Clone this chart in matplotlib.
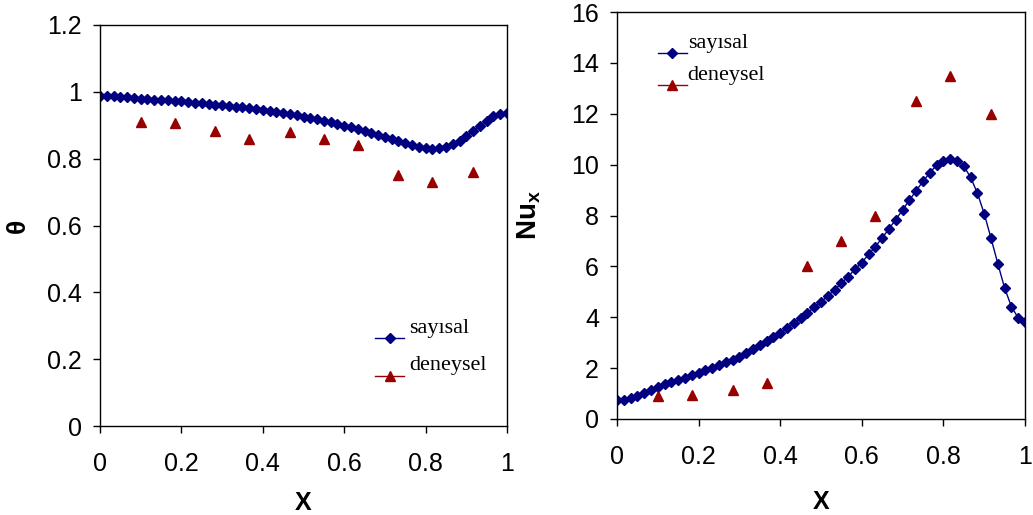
import numpy as np
import matplotlib
matplotlib.use("Agg")
import matplotlib.pyplot as plt

plt.rcParams["font.family"] = "Liberation Sans"
plt.rcParams["mathtext.fontset"] = "custom"
plt.rcParams["mathtext.rm"] = "Liberation Sans"
plt.rcParams["mathtext.bf"] = "Liberation Sans:bold"

# data
x_num = np.arange(61) / 60.0
theta_num = [0.988, 0.988, 0.987, 0.985, 0.984, 0.982, 0.980, 0.978, 0.977, 0.976,
             0.975, 0.974, 0.972, 0.970, 0.968, 0.966, 0.964, 0.962, 0.960, 0.958,
             0.956, 0.954, 0.951, 0.949, 0.946, 0.943, 0.940, 0.937, 0.934, 0.930,
             0.926, 0.923, 0.919, 0.914, 0.909, 0.904, 0.899, 0.894, 0.889, 0.883,
             0.877, 0.871, 0.865, 0.858, 0.852, 0.846, 0.840, 0.835, 0.831, 0.829,
             0.831, 0.836, 0.843, 0.854, 0.867, 0.882, 0.898, 0.914, 0.927, 0.935,
             0.937]
nu_num = [0.76, 0.76, 0.83, 0.91, 1.02, 1.14, 1.25, 1.38, 1.47, 1.55,
          1.63, 1.72, 1.82, 1.93, 2.01, 2.11, 2.23, 2.33, 2.45, 2.61,
          2.77, 2.91, 3.07, 3.24, 3.38, 3.58, 3.76, 3.96, 4.17, 4.39,
          4.59, 4.84, 5.08, 5.34, 5.60, 5.89, 6.15, 6.47, 6.78, 7.12,
          7.48, 7.84, 8.22, 8.60, 8.98, 9.34, 9.68, 9.98, 10.16, 10.23,
          10.16, 9.94, 9.50, 8.88, 8.07, 7.11, 6.11, 5.15, 4.42, 3.97,
          3.83]
x_exp = [0.1, 11/60, 17/60, 22/60, 28/60, 0.55, 38/60, 44/60, 49/60, 55/60]
theta_exp = [0.911, 0.906, 0.884, 0.860, 0.880, 0.860, 0.841, 0.750, 0.730, 0.760]
nu_exp = [0.9, 0.95, 1.15, 1.4, 6.0, 7.0, 8.0, 12.5, 13.5, 12.0]

navy = "#000080"
dred = "#990000"
W, H = 1033, 515

fig = plt.figure(figsize=(W / 100, H / 100), dpi=100)
ax1 = fig.add_axes([100 / W, 1 - 426 / H, 407 / W, 401 / H])
ax2 = fig.add_axes([617 / W, 1 - 419 / H, 408 / W, 407 / H])

for ax, yn, ye in [(ax1, theta_num, theta_exp), (ax2, nu_num, nu_exp)]:
    ax.plot(x_num, yn, color=navy, lw=1, marker="D", ms=5.2, mec=navy, label="sayısal")
    ax.plot(x_exp, ye, ls="none", marker="^", ms=7, color=dred, label="deneysel")
    ax.set_xlim(0, 1)
    ax.set_xticks(np.arange(0, 1.01, 0.2))
    ax.set_xticklabels(["0", "0.2", "0.4", "0.6", "0.8", "1"])
    ax.tick_params(axis="x", direction="out", length=5, width=1, pad=14, labelsize=18)
    ax.tick_params(axis="y", direction="out", length=5, width=1, pad=8, labelsize=18)
    for s in ax.spines.values():
        s.set_linewidth(1)
    ax.set_xlabel("X", fontsize=18, fontweight="bold")

ax1.set_ylim(0, 1.2)
ax1.set_yticks(np.arange(0, 1.21, 0.2))
ax1.set_yticklabels(["0", "0.2", "0.4", "0.6", "0.8", "1", "1.2"])
ax1.set_ylabel("θ", fontsize=19, fontweight="bold")
ax1.xaxis.set_label_coords(0.5, -0.163)
ax1.yaxis.set_label_coords(-0.172, 0.5)

ax2.set_ylim(0, 16)
ax2.set_yticks(np.arange(0, 17, 2))
ax2.set_ylabel(r"$\mathbf{Nu}_{\mathbf{x}}$", fontsize=20)
ax2.xaxis.set_label_coords(0.5, -0.175)
ax2.yaxis.set_label_coords(-0.181, 0.5)

leg_font = {"family": "Liberation Serif", "size": 16}
leg1 = ax1.legend(loc="upper left", bbox_to_anchor=(0.655, 0.26), frameon=False, prop=leg_font,
                  handlelength=1.3, handletextpad=0.2, labelspacing=0.75, borderaxespad=0)
leg2 = ax2.legend(loc="upper left", bbox_to_anchor=(0.078, 0.94), frameon=False, prop=leg_font,
                  handlelength=1.3, handletextpad=0.05, labelspacing=0.5, borderaxespad=0)
# label text sits a bit above the handle line, as in the source chart
for leg in (leg1, leg2):
    leg.get_lines()[1].set_linestyle("-")
    leg.get_lines()[1].set_linewidth(1)
    for t in leg.get_texts():
        t.set_position((0, 13))

fig.savefig("out.png", dpi=100)
